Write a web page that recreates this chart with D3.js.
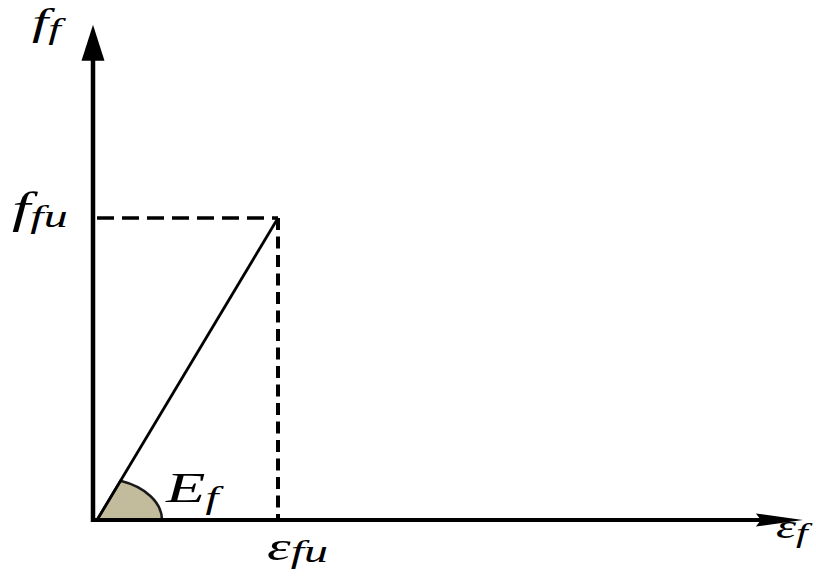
<!DOCTYPE html>
<html>
<head>
<meta charset="utf-8">
<script src="https://cdn.jsdelivr.net/npm/d3@7"></script>
<style>
  html, body { margin: 0; padding: 0; background: #fff; }
  svg { display: block; }
</style>
</head>
<body>
<div id="chart"></div>
<script>
// Linear-elastic stress-strain of FRP (schematic, normalised values)
const strainPts = [0, 1];      // eps / eps_fu
const stressPts = [0, 1];      // f / f_fu
const axisMax = [3.9, 1.64];   // how far each axis runs, same units
const labels = [
  { main: "f", sub: "f",  x: 32,  y: 35,  size: 39, subSize: 30, dy: 4 },
  { main: "f", sub: "fu", x: 12,  y: 223, size: 44, subSize: 32, dy: 4 },
  { main: "E", sub: "f",  x: 166, y: 502, size: 43, subSize: 31, dy: 6 },
  { main: "\u03b5", sub: "fu", x: 267, y: 560, size: 40, subSize: 32, dy: 2 },
  { main: "\u03b5", sub: "f",  x: 776, y: 538, size: 34, subSize: 28, dy: 4 }
];

const width = 816, height = 578;
const stretch = 1.5; // the figure is wider than tall, text too

const x = d3.scaleLinear().domain([0, 1]).range([97, 278]);
const y = d3.scaleLinear().domain([0, 1]).range([520, 218]);

const svg = d3.select("#chart").append("svg")
    .attr("width", width)
    .attr("height", height)
    .style("background", "#fff");

const x0 = x(0), y0 = y(0);
const axisX = x0 - 4; // vertical axis sits a touch left of the origin
const xTip = x(axisMax[0]), yTip = y(axisMax[1]);

// modulus sector (elliptical because of the horizontal stretch)
const rx = 65, ry = 42;
const ang = Math.atan2(y(stressPts[0]) - y(stressPts[1]), x(strainPts[1]) - x(strainPts[0]));
const t = 1 / Math.sqrt((Math.cos(ang) / rx) ** 2 + (Math.sin(ang) / ry) ** 2);
const px = x0 + t * Math.cos(ang), py = y0 - t * Math.sin(ang);
svg.append("path")
    .attr("d", `M${x0},${y0} L${x0 + rx},${y0} A${rx},${ry} 0 0 0 ${px},${py} Z`)
    .attr("fill", "#c2bb9c")
    .attr("stroke", "#1a1a1a")
    .attr("stroke-width", 2.5);

// dashed guides
svg.append("line")
    .attr("x1", x0).attr("y1", y(stressPts[1]))
    .attr("x2", x(strainPts[1])).attr("y2", y(stressPts[1]))
    .attr("stroke", "#000").attr("stroke-width", 3.5)
    .attr("stroke-dasharray", "17,8");
svg.append("line")
    .attr("x1", x(strainPts[1])).attr("y1", y(stressPts[1]))
    .attr("x2", x(strainPts[1])).attr("y2", y0)
    .attr("stroke", "#000").attr("stroke-width", 4)
    .attr("stroke-dasharray", "12,6.5");

// stress-strain line
svg.append("path")
    .datum(strainPts.map((d, i) => [d, stressPts[i]]))
    .attr("d", d3.line().x(d => x(d[0])).y(d => y(d[1])))
    .attr("fill", "none")
    .attr("stroke", "#000")
    .attr("stroke-width", 2.8);

// axes
svg.append("line")
    .attr("x1", axisX).attr("y1", y0 + 2)
    .attr("x2", axisX).attr("y2", yTip + 30)
    .attr("stroke", "#000").attr("stroke-width", 4.5);
svg.append("line")
    .attr("x1", axisX - 2).attr("y1", y0)
    .attr("x2", xTip - 40).attr("y2", y0)
    .attr("stroke", "#000").attr("stroke-width", 4);

svg.append("path")
    .attr("d", `M${axisX},${yTip} L${axisX + 11.5},${yTip + 36} L${axisX - 11.5},${yTip + 36} Z`)
    .attr("fill", "#000");
svg.append("path")
    .attr("d", `M${xTip},${y0} L${xTip - 47},${y0 + 6.5} L${xTip - 42},${y0} L${xTip - 47},${y0 - 6.5} Z`)
    .attr("fill", "#000");

// math labels
const txt = svg.append("g")
    .attr("font-family", "'Liberation Serif', 'Times New Roman', serif")
    .attr("font-style", "italic")
  .selectAll("text")
  .data(labels)
  .join("text")
    .attr("transform", d => `translate(${d.x},${d.y}) scale(${stretch},1)`)
    .attr("font-size", d => d.size);
txt.append("tspan").text(d => d.main);
txt.append("tspan")
    .attr("font-size", d => d.subSize)
    .attr("dy", d => d.dy)
    .text(d => d.sub);
</script>
</body>
</html>
